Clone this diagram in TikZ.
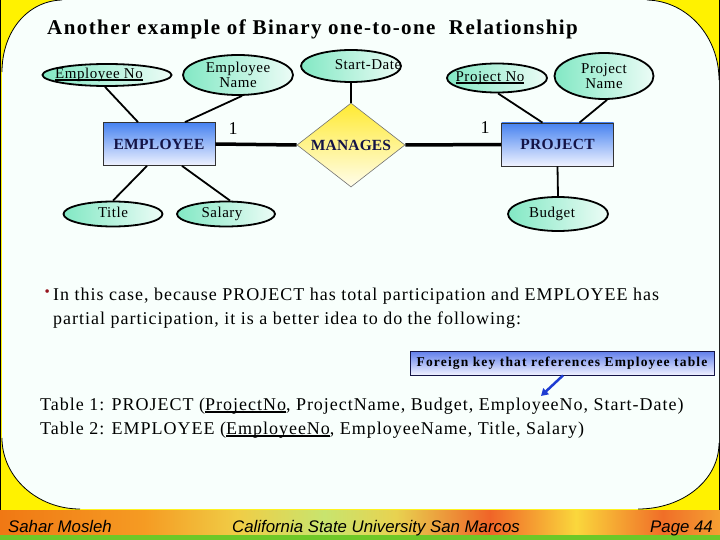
\documentclass[tikz,border=0pt]{standalone}
\usepackage{fontspec}
\setmainfont{Liberation Serif}
\setsansfont{Liberation Sans}
\usetikzlibrary{shapes.geometric,arrows.meta}

\definecolor{slidebg}{RGB}{248,255,252}
\definecolor{cornerylw}{RGB}{255,242,0}
\definecolor{attrgreen}{RGB}{130,232,196}
\definecolor{attrlight}{RGB}{236,252,246}
\definecolor{entblue}{RGB}{70,130,240}
\definecolor{entlight}{RGB}{240,243,255}
\definecolor{relyellow}{RGB}{255,234,50}
\definecolor{rellight}{RGB}{255,253,235}
\definecolor{navytext}{RGB}{20,20,70}
\definecolor{bulletred}{RGB}{150,20,30}
\definecolor{fkblue}{RGB}{95,125,235}
\definecolor{fklight}{RGB}{240,242,255}
\definecolor{arrowblue}{RGB}{30,60,210}
\definecolor{footgreen}{RGB}{110,200,40}
\definecolor{foota}{RGB}{240,120,20}
\definecolor{footb}{RGB}{245,155,35}
\definecolor{footc}{RGB}{240,205,70}
\definecolor{footd}{RGB}{200,228,110}
\definecolor{foote}{RGB}{232,210,80}
\definecolor{footf}{RGB}{240,100,40}
\definecolor{footg}{RGB}{250,215,60}
\definecolor{footh}{RGB}{240,110,40}
\definecolor{footi}{RGB}{245,160,50}

% footer bar, the path covers 25bp to 75bp
\pgfdeclarehorizontalshading{footbar}{100bp}{color(0bp)=(foota); color(25bp)=(foota);
  color(35bp)=(footb); color(41.5bp)=(footc); color(47.5bp)=(footd); color(52.5bp)=(foote);
  color(59bp)=(footf); color(65bp)=(footg); color(71bp)=(footh); color(75bp)=(footi); color(100bp)=(footi)}

\newsavebox{\pkeybox}
\newcommand{\pkey}[1]{\sbox\pkeybox{#1}\rlap{\rule[-2.5pt]{\wd\pkeybox}{1.6pt}}\usebox\pkeybox}
\newcommand{\shiftxt}[2]{\makebox[0pt]{\hspace*{#1}#2\hspace*{-#1}}}
\newcommand{\spaced}[2]{\fontsize{#1}{#1}\selectfont\addfontfeatures{LetterSpace=#2}}

\begin{document}
\begin{tikzpicture}[x=1pt,y=-1pt,
	attr/.style={ellipse, draw=black, line width=1.8pt, left color=attrgreen, right color=attrlight, inner sep=0pt, text height=10pt, text depth=3pt, font=\spaced{15}{3.5}, align=center},
	entity/.style={rectangle, draw=black!80, line width=0.8pt, top color=entblue, bottom color=entlight, minimum width=112pt, minimum height=43pt, font=\bfseries\spaced{15.5}{2}, text=navytext},
	rel/.style={diamond, aspect=1.3, draw=black!55, line width=0.6pt, top color=relyellow, bottom color=rellight, minimum width=108pt, minimum height=84pt, inner sep=0pt, font=\bfseries\spaced{15.5}{1}, text=navytext},
	attrline/.style={line width=1.8pt},
	relline/.style={line width=3.5pt},
	card/.style={font=\fontsize{18}{20}\selectfont},
	body/.style={font=\spaced{18}{5.5}, anchor=base west, inner sep=0pt},
	fkbox/.style={draw=navytext, line width=0.8pt, top color=fkblue, bottom color=fklight, minimum width=304pt, minimum height=24pt, inner sep=0pt, font=\bfseries\spaced{13.5}{8.5}},
	fkarrow/.style={draw=arrowblue, line width=2.5pt, -{Triangle[length=7pt,width=8pt]}},
	foot/.style={font=\sffamily\itshape\fontsize{16.8}{18}\selectfont, anchor=base, inner sep=0pt}
	]
	\useasboundingbox (0,0) rectangle (720,540);
	% slide background
	\fill[cornerylw] (0,0) rectangle (720,510);
	\draw[line width=1.2pt] (0.6,0) -- (0.6,510) (719.4,0) -- (719.4,510);
	\fill[slidebg] (2,72) .. controls (2,32) and (27,1) .. (62,0) -- (647,0) .. controls (687,1) and (719,36) .. (719,80)
		-- (719,443) .. controls (719,480) and (683,509) .. (638,509) -- (80,509) .. controls (37,509) and (2,477) .. (2,438) -- cycle;
	\draw[line width=0.8pt] (2,72) .. controls (2,32) and (27,1) .. (62,0);
	\draw[line width=0.8pt] (647,0) .. controls (687,1) and (719,36) .. (719,80);
	\draw[line width=0.8pt] (719,443) .. controls (719,480) and (683,509) .. (638,509);
	\draw[line width=0.8pt] (80,509) .. controls (37,509) and (2,477) .. (2,438);
	\shade[shading=footbar] (0,510) rectangle (720,535);
	\fill[footgreen] (0,535) rectangle (720,540);

	\node[font=\bfseries\spaced{21}{6.8}, anchor=base west, inner sep=0pt] (heading) at (47,35) {Another example of Binary one-to-one\ \ Relationship};

	% ER diagram
	\node[entity] (emp) at (159,144) {EMPLOYEE};
	\node[entity] (proj) at (557.5,144.5) {PROJECT};
	\node[rel] (manages) at (351,145) {MANAGES};
	\node[attr, minimum width=129pt, minimum height=22pt] (empno) at (107,75) {\shiftxt{-8pt}{\pkey{Employee No}}};
	\node[attr, minimum width=110pt, minimum height=40pt, text height=, text depth=] (empname) at (238,75) {Employee\\Name};
	\node[attr, minimum width=100pt, minimum height=32pt] (startdate) at (351,66) {\shiftxt{17pt}{Start-Date}};
	\node[attr, minimum width=100pt, minimum height=29pt] (projno) at (497,78) {\shiftxt{-7pt}{\pkey{Project No}}};
	\node[attr, minimum width=99pt, minimum height=46pt, text height=, text depth=] (projname) at (604,76) {Project\\Name};
	\node[attr, minimum width=99pt, minimum height=25pt] (title) at (113,214) {Title};
	\node[attr, minimum width=98pt, minimum height=25pt] (salary) at (226,214) {\shiftxt{-4pt}{Salary}};
	\node[attr, minimum width=100pt, minimum height=34pt] (budget) at (558,214) {\shiftxt{-6pt}{Budget}};

	\draw[attrline] ([xshift=-2pt]empno.south) -- ([xshift=-21pt]emp.north);
	\draw[attrline] ([xshift=4pt]empname.south) -- ([xshift=26pt]emp.north);
	\draw[attrline] (title.north) -- ([xshift=-12pt]emp.south);
	\draw[attrline] ([xshift=4pt]salary.north) -- ([xshift=23pt]emp.south);
	\draw[attrline] (startdate.south) -- (manages.north);
	\draw[relline] (emp.east) -- (manages.west);
	\draw[relline] (manages.east) -- (proj.west);
	\draw[attrline] ([xshift=1pt]projno.south) -- ([xshift=-15pt]proj.north);
	\draw[attrline] ([xshift=3pt]projname.south) -- ([xshift=22pt]proj.north);
	\draw[attrline] (proj.south) -- (budget.north);
	\node[card] (cardemp) at (233,129) {1};
	\node[card] (cardproj) at (485,128) {1};

	% text
	\node[body, text=bulletred, font=\fontsize{15}{15}\selectfont] (bullet) at (44.5,296) {\textbullet};
	\node[body] (bodyone) at (53,300) {In this case, because PROJECT has total participation and EMPLOYEE has};
	\node[body] (bodytwo) at (53,324) {partial participation, it is a better idea to do the following:};
	\node[fkbox] (fk) at (562,363) {Foreign key that references Employee table};
	\coordinate (fkend) at (541,396);
	\draw[fkarrow] ([xshift=1pt]fk.south) -- (fkend);
	\node[body] (tableone) at (40,410) {Table 1: PROJECT (\pkey{ProjectNo}, ProjectName, Budget, EmployeeNo, Start-Date)};
	\node[body] (tabletwo) at (40,434) {Table 2: EMPLOYEE (\pkey{EmployeeNo}, EmployeeName, Title, Salary)};

	% footer
	\node[foot, anchor=base west] (author) at (8,532) {Sahar Mosleh};
	\node[foot] (school) at (376,532) {California State University San Marcos};
	\node[foot, anchor=base east] (page) at (713,532) {Page 44};
\end{tikzpicture}
\end{document}
